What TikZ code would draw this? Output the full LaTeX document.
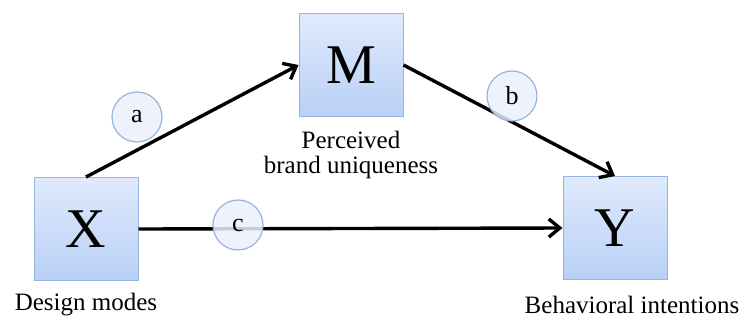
\documentclass[tikz,border=0pt]{standalone}
\usepackage{fontspec}
\setmainfont{Liberation Serif}
\usetikzlibrary{arrows.meta,positioning}

\definecolor{boxtop}{RGB}{224,234,252}
\definecolor{boxbot}{RGB}{184,208,246}
\definecolor{boxline}{RGB}{150,180,224}
\definecolor{pathfill}{RGB}{234,240,250}

\tikzset{
    var/.style={draw=boxline, line width=1pt, top color=boxtop, bottom color=boxbot,
        minimum width=104pt, minimum height=103pt, font=\fontsize{56}{60}\selectfont},
    path label/.style={circle, draw=boxline, line width=1.2pt, fill=pathfill, fill opacity=0.85,
        text opacity=1, minimum size=50pt, inner sep=0pt, font=\fontsize{26}{28}\selectfont},
    caption/.style={align=center, font=\fontsize{25}{26}\selectfont},
    effect/.style={line width=3.4pt, -{Straight Barb[length=11pt,width=18pt,line width=3.4pt]}}
}

\begin{document}
\begin{tikzpicture}[x=1pt,y=-1pt]
    \useasboundingbox (0,0) rectangle (744,325);

    \node[var] (X) at (86,229) {X};
    \node[var] (M) at (351,65) {M};
    \node[var] (Y) at (615,228) {Y};

    \node[caption] (Xlab) at (86,305) {Design modes};
    \node[caption] (Mlab) at (351,155) {Perceived\\[-1pt]brand uniqueness};
    \node[caption] (Ylab) at (632,305) {Behavioral intentions};

    \draw[effect] (X.north) -- (M.west); % a path
    \draw[effect] (M.east) -- (Y.north); % b path
    \draw[effect] (X.east) -- (Y.west);  % c path

    \node[path label] (a) at (137,117) {a};
    \node[path label] (b) at (512,96) {b};
    \node[path label] (c) at (238,225) {c};
\end{tikzpicture}
\end{document}
